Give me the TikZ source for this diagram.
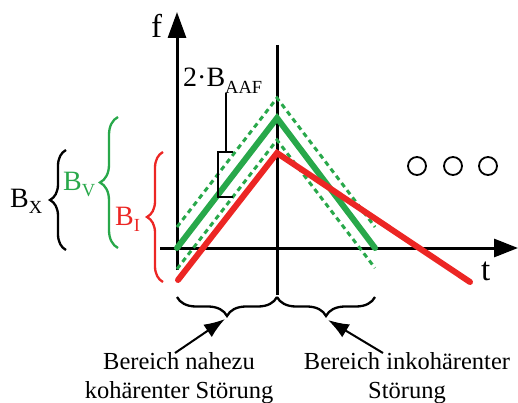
\documentclass[tikz,border=0pt]{standalone}
\usepackage{fontspec}
\setmainfont{Liberation Serif}
\usetikzlibrary{arrows.meta,decorations.pathreplacing}
\definecolor{grn}{RGB}{40,168,74}
\definecolor{rdd}{RGB}{236,38,36}
\newcommand{\subtxt}[1]{\raisebox{-0.22em}{\scalebox{0.66}{#1}}}
\tikzset{
  axisline/.style={line width=3pt, black},
  thickgreen/.style={line width=6pt, grn, line cap=round, line join=miter},
  thickred/.style={line width=6pt, rdd, line cap=round, line join=miter},
  dashgreen/.style={line width=3pt, grn, dash pattern=on 5pt off 4pt},
  bracestyle/.style={decorate, decoration={brace, amplitude=#1}, line width=2.3pt},
  lbl/.style={inner sep=0pt, font=\fontsize{28}{30}\selectfont},
  axlbl/.style={inner sep=0pt, font=\fontsize{33}{36}\selectfont},
  bottomlbl/.style={inner sep=0pt, align=center, font=\fontsize{24.5}{28.5}\selectfont},
  ring/.style={circle, draw, line width=1.8pt, minimum size=18pt, inner sep=0pt},
  pointer/.style={line width=2pt, -{Latex[length=21pt,width=15pt]}}
}
\begin{document}
\begin{tikzpicture}[x=1pt,y=-1pt]
\useasboundingbox (0,0) rectangle (518,403);
% coordinates
\coordinate (fbot) at (177,270);
\coordinate (ftop) at (177,12);
\coordinate (tleft) at (160,248);
\coordinate (tright) at (518,248);
\coordinate (mtop) at (277,45);
\coordinate (mbot) at (277,295);
% axes
\draw[axisline, -{Triangle[length=26pt,width=18pt]}] (fbot) -- (ftop);
\draw[axisline, -{Triangle[length=24pt,width=18pt]}] (tleft) -- (tright);
\draw[axisline] (mtop) -- (mbot);
\node[axlbl, anchor=base west] (flab) at (151,38) {f};
\node[axlbl, anchor=base west] (tlab) at (481,280) {t};
% green dashed band
\coordinate (du1) at (177,227);
\coordinate (du2) at (277,98);
\coordinate (du3) at (375,227);
\coordinate (dl1) at (177,269);
\coordinate (dl2) at (277,140);
\coordinate (dl3) at (375,268);
\draw[dashgreen] (du1) -- (du2) -- (du3);
\draw[dashgreen] (dl1) -- (dl2) -- (dl3);
% green solid
\coordinate (g1) at (177,248);
\coordinate (g2) at (277,118);
\coordinate (g3) at (375,248);
\draw[thickgreen] (g1) -- (g2) -- (g3);
% red solid
\coordinate (r1) at (178,280);
\coordinate (r2) at (277,153);
\coordinate (r3) at (470,282);
\draw[thickred] (r1) -- (r2) -- (r3);
% 2*B_AAF bracket
\node[lbl, anchor=base west] (baaf) at (183,87) {2·B\subtxt{AAF}};
\coordinate (bk1) at (233,152);
\coordinate (bk2) at (218,152);
\coordinate (bk3) at (218,197);
\coordinate (bk4) at (233,197);
\coordinate (bkm) at (226,152);
\coordinate (bktop) at (226,93);
\draw[line width=2pt] (bk1) -- (bk2) -- (bk3) -- (bk4);
\draw[line width=2pt] (bkm) -- (bktop);
% circles
\node[ring] (c1) at (417,166) {};
\node[ring] (c2) at (453,166) {};
\node[ring] (c3) at (488,166) {};
% left braces
\coordinate (bxb) at (66,250);
\coordinate (bxt) at (66,150);
\draw[bracestyle=16pt, black] (bxb) -- (bxt);
\node[lbl, anchor=base west] (bx) at (10,207) {B\subtxt{X}};
\coordinate (bvb) at (118,248);
\coordinate (bvt) at (118,117);
\draw[bracestyle=18pt, grn] (bvb) -- (bvt);
\node[lbl, anchor=base west, text=grn] (bv) at (63,190) {B\subtxt{V}};
\coordinate (bib) at (163,282);
\coordinate (bit) at (163,152);
\draw[bracestyle=16pt, rdd] (bib) -- (bit);
\node[lbl, anchor=base west, text=rdd] (bi) at (115,225) {B\subtxt{I}};
% bottom braces
\coordinate (bl1) at (177,297);
\coordinate (bl2) at (277,297);
\coordinate (br2) at (375,297);
\draw[bracestyle=19pt, black] (bl2) -- (bl1);
\draw[bracestyle=19pt, black] (br2) -- (bl2);
\coordinate (tipL) at (225,319);
\coordinate (tipR) at (328,320);
% bottom labels
\node[bottomlbl, anchor=north] (labL) at (179,352.5) {Bereich nahezu\\kohärenter Störung};
\node[bottomlbl, anchor=north] (labR) at (407,352.5) {Bereich inkohärenter\\Störung};
\coordinate (stL) at (175,353);
\coordinate (stR) at (383,353);
\draw[pointer] (stL) -- (tipL);
\draw[pointer] (stR) -- (tipR);
\end{tikzpicture}
\end{document}
